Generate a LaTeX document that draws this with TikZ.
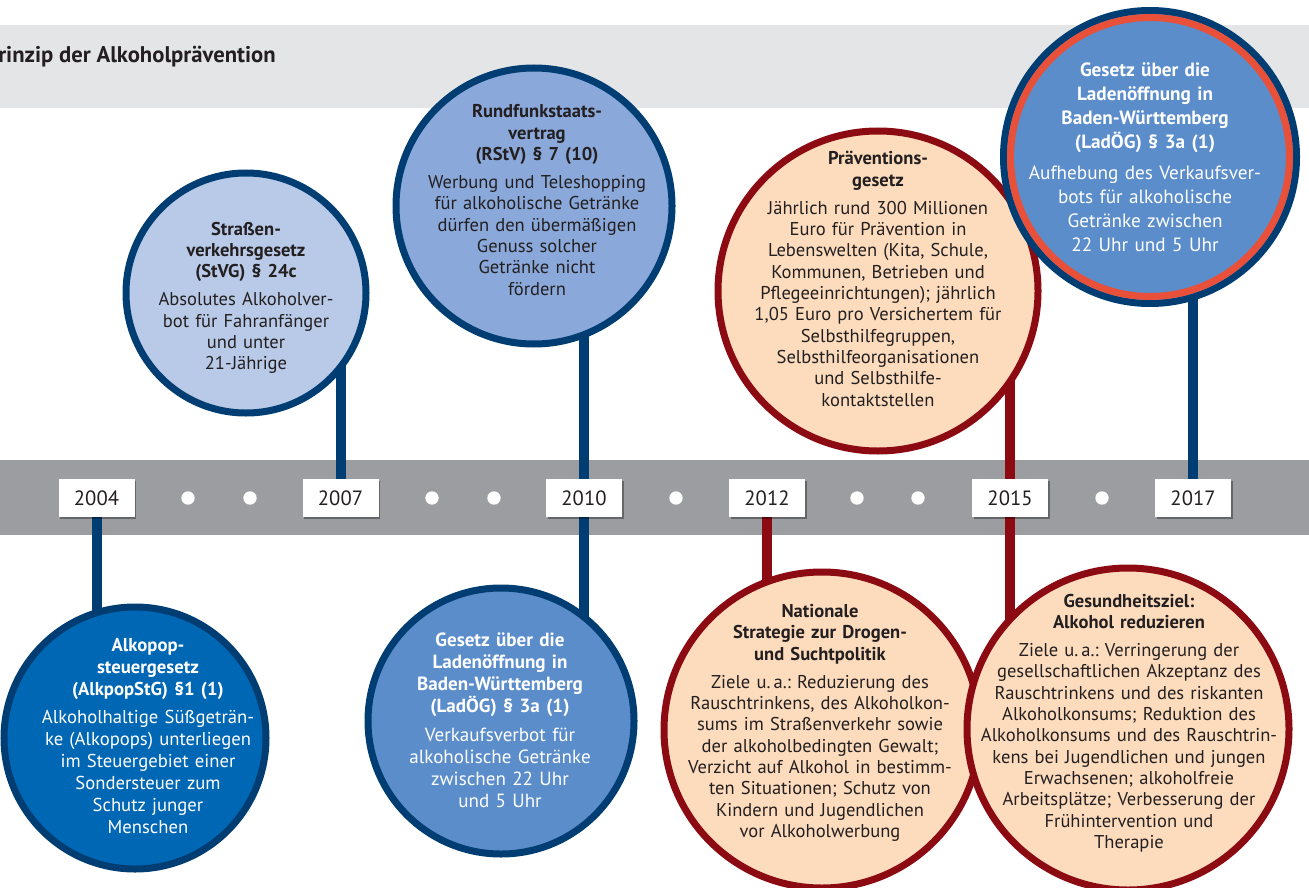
\documentclass[tikz,border=0pt]{standalone}
\usepackage{fontspec}
\setmainfont{PT Sans}
\usetikzlibrary{positioning,shadows}

\definecolor{navy}{HTML}{003D73}
\definecolor{wine}{HTML}{8C0A12}
\definecolor{flame}{HTML}{E8503A}
\definecolor{paleblue}{HTML}{B9CAE8}
\definecolor{midblue}{HTML}{8AA9DA}
\definecolor{shopblue}{HTML}{5B8DCB}
\definecolor{taxblue}{HTML}{0067B4}
\definecolor{peach}{HTML}{FDDCBE}
\definecolor{haze}{HTML}{E4E5E7}
\definecolor{slate}{HTML}{9C9DA1}
\definecolor{ink}{HTML}{231F20}

\pgfdeclarelayer{bands}
\pgfdeclarelayer{stems}
\pgfsetlayers{bands,stems,main}

\tikzset{
  yearbox/.style={fill=white,minimum width=57pt,minimum height=28.5pt,inner sep=0pt,
    text=ink,font=\fontsize{15.5}{17}\selectfont,
    drop shadow={shadow xshift=1.2pt,shadow yshift=-1.2pt,opacity=0.35,fill=black}},
  tick/.style={circle,fill=white,minimum size=10pt,inner sep=0pt},
  disc/.style={circle,line width=5.25pt,inner sep=0pt},
  lawtext/.style={text width=260pt,align=center,inner sep=0pt,text=ink,
    font=\frenchspacing\fontsize{13.9}{16}\selectfont},
  stem/.style={line width=7.5pt},
}
\newcommand{\lawhead}[1]{{\bfseries #1}\\[5pt]}

\begin{document}
\begin{tikzpicture}[x=0.75pt,y=-0.75pt]
  \useasboundingbox (0,0) rectangle (1309,888);
  % bands
  \begin{pgfonlayer}{bands}
    \fill[haze] (0,25) rectangle (1309,108);
    \fill[slate] (0,460) rectangle (1309,535);
  \end{pgfonlayer}
  \node[anchor=west,inner sep=0pt,text=ink,font=\fontsize{17}{20}\selectfont\bfseries] (title) at (-2,57) {rinzip der Alkoholprävention};

  % years on the time line
  \node[yearbox] (y2004) at (96.5,498) {2004};
  \node[yearbox] (y2007) at (340.5,498) {2007};
  \node[yearbox] (y2010) at (584,498) {2010};
  \node[yearbox] (y2012) at (767,498) {2012};
  \node[yearbox] (y2015) at (1010,498) {2015};
  \node[yearbox] (y2017) at (1193,498) {2017};
  \foreach \t [count=\i] in {188,250,432,494,676,857,918,1102}
    \node[tick] (dot\i) at (\t,498) {};

  % above the line
  \node[disc,draw=navy,fill=paleblue,minimum size=180pt] (strasse) at (246,293) {};
  \node[lawtext] at (246,298) {\lawhead{Straßen-\\verkehrsgesetz\\(StVG) § 24c}Absolutes Alkoholver-\\bot für Fahranfänger\\und unter\\21-Jährige};
  \node[disc,draw=navy,fill=midblue,minimum size=207pt] (rundfunk) at (534,206) {};
  \node[lawtext] at (537,200) {\lawhead{Rundfunkstaats-\\vertrag\\(RStV) § 7 (10)}Werbung und Teleshopping\\für alkoholische Getränke\\dürfen den übermäßigen\\Genuss solcher\\Getränke nicht\\fördern};
  \node[disc,draw=wine,fill=peach,minimum size=240pt] (praev) at (878,291) {};
  \node[lawtext] at (878,279) {\lawhead{Präventions-\\gesetz}Jährlich rund 300 Millionen\\Euro für Prävention in\\Lebenswelten (Kita, Schule,\\Kommunen, Betrieben und\\Pflegeeinrichtungen); jährlich\\1,05 Euro pro Versichertem für\\Selbsthilfegruppen,\\Selbsthilfeorganisationen\\und Selbsthilfe-\\kontaktstellen};
  \node[disc,draw=navy,fill=shopblue,minimum size=219.75pt] (laden17) at (1150,157) {};
  \draw[flame,line width=5.25pt] (laden17.center) circle [radius=104.6pt];
  \node[lawtext,text=white,font=\frenchspacing\fontsize{14.4}{18}\selectfont] at (1145,157) {\lawhead{Gesetz über die\\Ladenöffnung in\\Baden-Württemberg\\(LadÖG) § 3a (1)}Aufhebung des Verkaufsver-\\bots für alkoholische\\Getränke zwischen\\22 Uhr und 5 Uhr};

  % below the line
  \node[disc,draw=navy,fill=taxblue,minimum size=196.5pt] (alkopop) at (135,738) {};
  \node[lawtext,text=white,font=\frenchspacing\fontsize{14}{16.5}\selectfont] at (148,736) {\lawhead{Alkopop-\\steuergesetz\\(AlkpopStG) §1 (1)}Alkoholhaltige Süßgeträn-\\ke (Alkopops) unterliegen\\im Steuergebiet einer\\Sondersteuer zum\\Schutz junger\\Menschen};
  \node[disc,draw=navy,fill=shopblue,minimum size=199.5pt] (laden10) at (501,721) {};
  \node[lawtext,text=white,font=\frenchspacing\fontsize{14.3}{16.5}\selectfont] at (500,720) {\lawhead{Gesetz über die\\Ladenöffnung in\\Baden-Württemberg\\(LadÖG) § 3a (1)}Verkaufsverbot für\\alkoholische Getränke\\zwischen 22 Uhr\\und 5 Uhr};
  \node[disc,draw=wine,fill=peach,minimum size=237pt] (national) at (822,730) {};
  \node[lawtext] at (820,723) {\lawhead{Nationale\\Strategie zur Drogen-\\und Suchtpolitik}Ziele u.\,a.: Reduzierung des\\Rauschtrinkens, des Alkoholkon-\\sums im Straßenverkehr sowie\\der alkoholbedingten Gewalt;\\Verzicht auf Alkohol in bestimm-\\ten Situationen; Schutz von\\Kindern und Jugendlichen\\vor Alkoholwerbung};
  \node[disc,draw=wine,fill=peach,minimum size=241.5pt] (gesund) at (1128,729) {};
  \node[lawtext] at (1129,723) {\lawhead{Gesundheitsziel:\\Alkohol reduzieren}Ziele u.\,a.: Verringerung der\\gesellschaftlichen Akzeptanz des\\Rauschtrinkens und des riskanten\\Alkoholkonsums; Reduktion des\\Alkoholkonsums und des Rauschtrin-\\kens bei Jugendlichen und jungen\\Erwachsenen; alkoholfreie\\Arbeitsplätze; Verbesserung der\\Frühintervention und\\Therapie};

  % stems from year to circle
  \begin{pgfonlayer}{stems}
    \draw[stem,navy] (y2004.center) -- (y2004.center |- alkopop.center);
    \draw[stem,navy] (y2007.center) -- (y2007.center |- strasse.center);
    \draw[stem,navy] (y2010.center |- rundfunk.center) -- (y2010.center |- laden10.center);
    \draw[stem,wine] (y2012.center) -- (y2012.center |- national.center);
    \draw[stem,wine] (y2015.center |- praev.center) -- (y2015.center |- gesund.center);
    \draw[stem,navy] (y2017.center) -- (y2017.center |- laden17.center);
  \end{pgfonlayer}
\end{tikzpicture}
\end{document}
